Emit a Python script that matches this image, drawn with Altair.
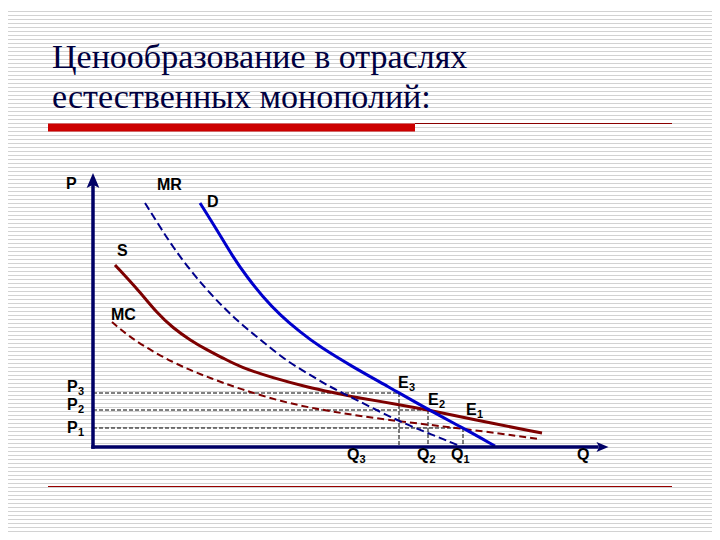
import altair as alt
import pandas as pd

# ---------------- data (Q, P in arbitrary units) ----------------
d_q = [10.7, 12.4, 14.0, 15.4, 17.0, 18.7, 20.7, 22.7, 26.0, 29.4, 33.5, 37.0, 40.2]
d_p = [24.4, 21.7, 19.0, 17.0, 15.0, 13.2, 11.5, 10.0, 8.0, 6.1, 3.75, 1.9, 0.1]

mr_q = [5.2, 6.7, 8.0, 9.7, 11.4, 13.0, 14.7, 16.4, 18.0, 19.7, 21.4, 23.7, 26.0, 30.6, 33.5, 36.7]
mr_p = [24.4, 22.0, 20.0, 17.7, 15.7, 14.0, 12.4, 11.0, 9.7, 8.4, 7.4, 6.0, 4.9, 2.55, 1.4, 0.1]

s_q = [2.2, 4.7, 6.4, 8.0, 9.7, 11.4, 13.0, 14.7, 18.0, 21.4, 24.7, 26.0, 30.6, 33.5, 37.7, 44.9]
s_p = [18.2, 15.5, 13.4, 11.9, 10.7, 9.7, 8.9, 8.0, 6.9, 6.0, 5.3, 5.0, 4.25, 3.7, 2.8, 1.4]

mc_q = [1.9, 4.0, 8.0, 11.4, 14.7, 19.0, 22.4, 25.7, 30.6, 37.0, 44.6]
mc_p = [12.5, 10.7, 8.4, 7.0, 5.8, 4.5, 3.8, 3.25, 2.55, 1.85, 0.8]

q_levels = [30.6, 33.5, 37.0]      # Q3, Q2, Q1
p_levels = [5.4, 3.7, 1.9]         # P3, P2, P1

title_lines = ["Ценообразование в отраслях", "естественных монополий:"]

# ---------------- layout ----------------
W, H = 704, 524
XS = alt.Scale(domain=[0, 51.5], range=[85, 600], nice=False, zero=False)
YS = alt.Scale(domain=[0, 27.5], range=[439, 164], nice=False, zero=False)
one = pd.DataFrame({"k": [0]})

NAVY = "#000066"
BLUE = "#0000cc"
DBLUE = "#00008c"
MAROON = "#7d0000"


def curve(qs, ps, color, width, dash=None):
    df = pd.DataFrame({"q": qs, "p": ps})
    kw = dict(color=color, strokeWidth=width, interpolate="basis")
    if dash:
        kw["strokeDash"] = dash
    return alt.Chart(df).mark_line(**kw).encode(
        x=alt.X("q:Q", scale=XS, axis=None),
        y=alt.Y("p:Q", scale=YS, axis=None),
        order="q:Q",
    )


def label(txt, q, p, size=16, dx=0, dy=0):
    return alt.Chart(one).mark_text(
        text=txt, font="Liberation Sans", fontWeight="bold", fontSize=size,
        align="left", baseline="middle", dx=dx, dy=dy, color="#000000",
    ).encode(x=alt.XDatum(q, scale=XS, axis=None), y=alt.YDatum(p, scale=YS, axis=None))


def sub_label(main, sub, q, p, main_w):
    return [label(main, q, p), label(sub, q, p, size=11, dx=main_w, dy=5)]


layers = []

# striped slide background
layers.append(
    alt.Chart(alt.sequence(3.5, H, 4, as_="sy")).mark_rule(color="#d2d2d2", strokeWidth=1).encode(
        y=alt.Y("sy:Q", scale=None), x=alt.value(0), x2=alt.value(W)
    )
)

# title
for i, line in enumerate(title_lines):
    layers.append(
        alt.Chart(one).mark_text(
            text=line, font="Liberation Serif", fontSize=34, color="#000040",
            align="left", baseline="alphabetic",
        ).encode(x=alt.value(44), y=alt.value(60 + 40 * i))
    )

# red bar + thin rules
layers.append(alt.Chart(one).mark_rule(color="#cc0000", strokeWidth=8).encode(
    x=alt.value(40), x2=alt.value(407), y=alt.value(119.5)))
layers.append(alt.Chart(one).mark_rule(color="#8b0000", strokeWidth=1).encode(
    x=alt.value(407), x2=alt.value(664), y=alt.value(115.5)))
layers.append(alt.Chart(one).mark_rule(color="#990000", strokeWidth=1).encode(
    x=alt.value(40), x2=alt.value(664), y=alt.value(478.5)))

# guide dashed lines
gd = pd.DataFrame({"q": q_levels, "p": p_levels, "z": [0, 0, 0]})
layers.append(alt.Chart(gd).mark_rule(color="#000000", strokeWidth=1, strokeDash=[4, 2]).encode(
    x=alt.X("z:Q", scale=XS, axis=None), x2="q:Q", y=alt.Y("p:Q", scale=YS, axis=None)))
layers.append(alt.Chart(gd).mark_rule(color="#000000", strokeWidth=1, strokeDash=[4, 2]).encode(
    x=alt.X("q:Q", scale=XS, axis=None), y=alt.Y("p:Q", scale=YS, axis=None), y2="z:Q"))

# curves
layers.append(curve(mc_q, mc_p, MAROON, 2, [7, 4]))
layers.append(curve(s_q, s_p, MAROON, 3))
layers.append(curve(mr_q, mr_p, DBLUE, 2, [8, 4]))
layers.append(curve(d_q, d_p, BLUE, 3))

# axes
layers.append(alt.Chart(one).mark_rule(color=NAVY, strokeWidth=3.5, strokeCap="square").encode(
    x=alt.XDatum(0, scale=XS, axis=None), y=alt.YDatum(0, scale=YS, axis=None), y2=alt.Y2Datum(26.4)))
layers.append(alt.Chart(one).mark_rule(color=NAVY, strokeWidth=3.5, strokeCap="square").encode(
    x=alt.XDatum(0, scale=XS, axis=None), x2=alt.X2Datum(50.4), y=alt.YDatum(0, scale=YS, axis=None)))
layers.append(alt.Chart(one).mark_point(
    shape="M0,-1L0.85,1L0,0.55L-0.85,1Z", filled=True, opacity=1, color=NAVY, size=225, strokeWidth=0,
).encode(x=alt.XDatum(0, scale=XS, axis=None), y=alt.YDatum(26.65, scale=YS, axis=None)))
layers.append(alt.Chart(one).mark_point(
    shape="M1,0L-1,0.85L-0.55,0L-1,-0.85Z", filled=True, opacity=1, color=NAVY, size=144, strokeWidth=0,
).encode(x=alt.XDatum(50.95, scale=XS, axis=None), y=alt.YDatum(0, scale=YS, axis=None)))

# labels
layers.append(label("P", -2.7, 26.3))
layers.append(label("MR", 6.4, 26.25))
layers.append(label("D", 11.4, 24.55))
layers.append(label("S", 2.4, 19.6))
layers.append(label("MC", 1.8, 13.2))
layers += sub_label("P", "3", -2.6, 6.0, 11)
layers += sub_label("P", "2", -2.6, 4.2, 11)
layers += sub_label("P", "1", -2.6, 1.9, 11)
layers += sub_label("E", "3", 30.5, 6.4, 11)
layers += sub_label("E", "2", 33.5, 4.7, 11)
layers += sub_label("E", "1", 37.3, 3.7, 11)
layers += sub_label("Q", "3", 25.4, -0.8, 12.5)
layers += sub_label("Q", "2", 32.4, -0.8, 12.5)
layers += sub_label("Q", "1", 35.8, -0.8, 12.5)
layers.append(label("Q", 48.4, -0.8))

chart = alt.layer(*layers).resolve_scale(x="independent", y="independent").properties(
    width=W, height=H, padding=0, autosize=alt.AutoSizeParams(type="none"), background="#ffffff"
).configure_view(stroke=None)

chart.save("out.html", embed_options={"renderer": "svg", "actions": False})
